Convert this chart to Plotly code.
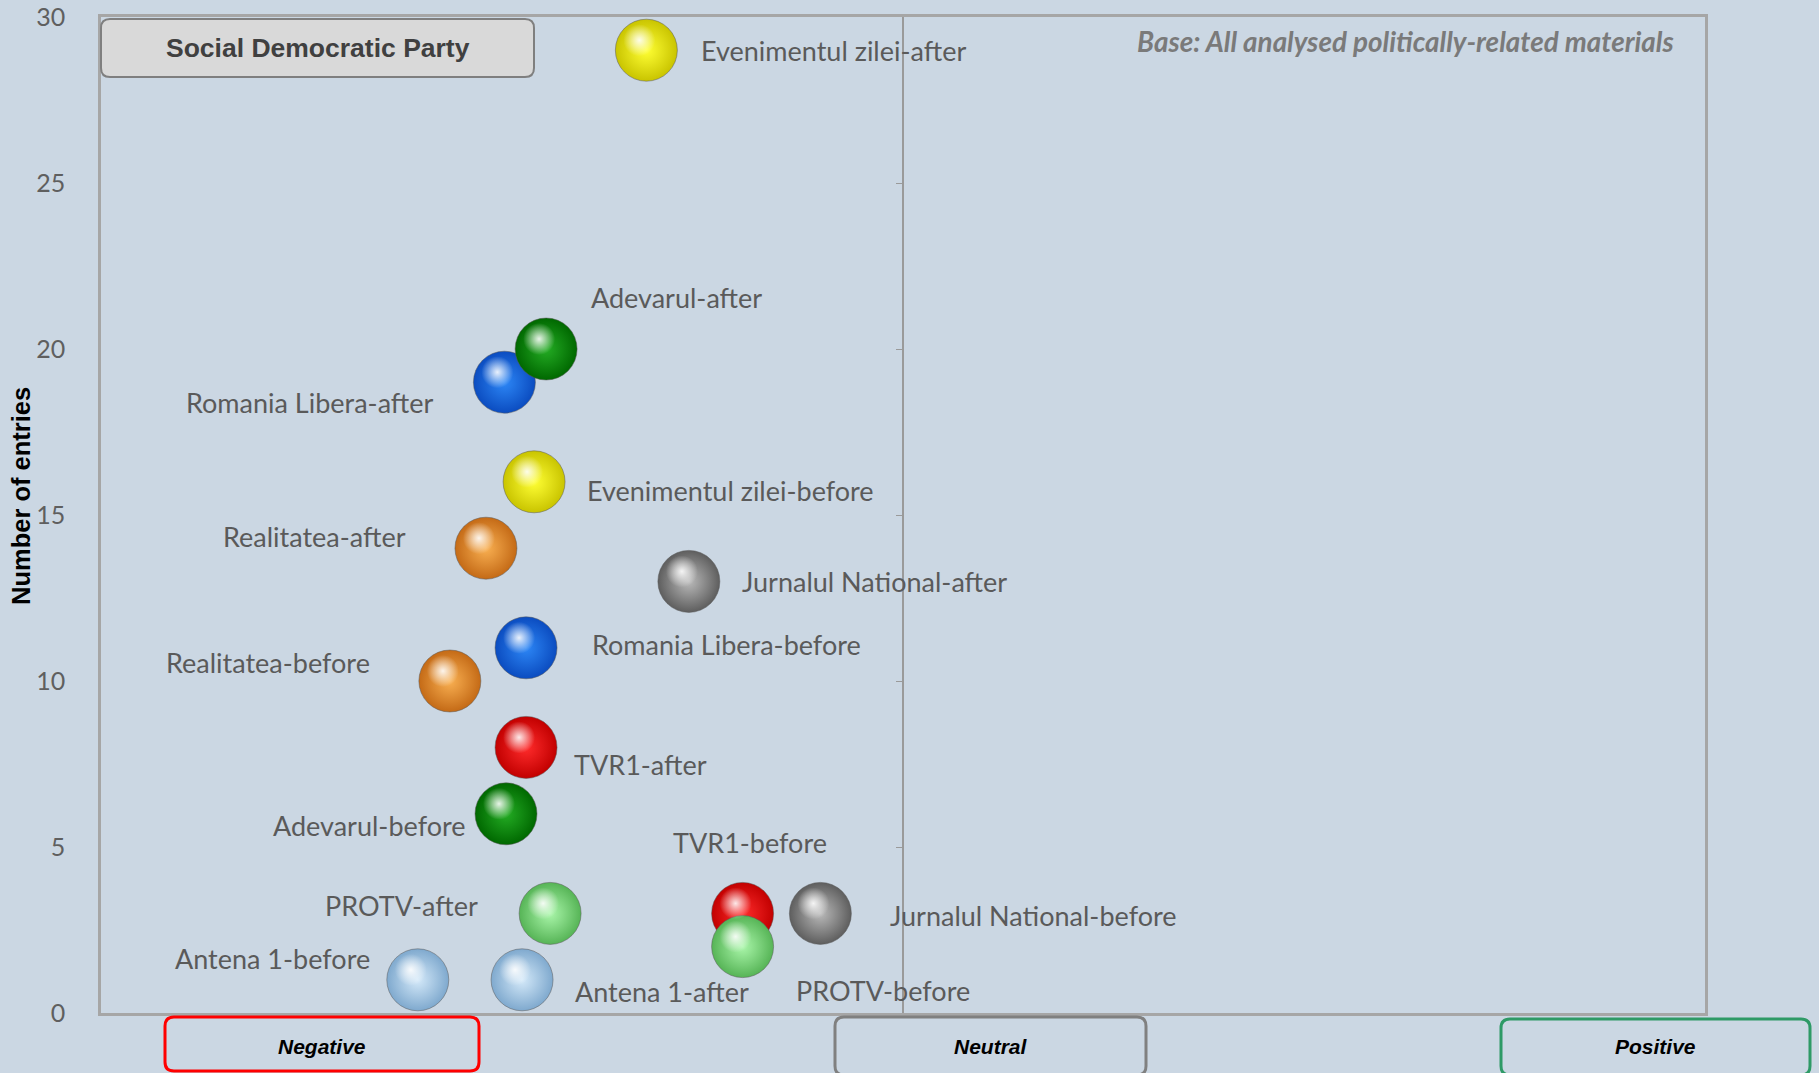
import plotly.graph_objects as go

# ---------------- data ----------------
labels = [
    "Evenimentul zilei-after", "Romania Libera-after", "Adevarul-after",
    "Evenimentul zilei-before", "Realitatea-after", "Jurnalul National-after",
    "Romania Libera-before", "Realitatea-before", "TVR1-after", "Adevarul-before",
    "PROTV-after", "TVR1-before", "Jurnalul National-before", "PROTV-before",
    "Antena 1-before", "Antena 1-after",
]
outlets = [
    "Evenimentul zilei", "Romania Libera", "Adevarul",
    "Evenimentul zilei", "Realitatea", "Jurnalul National",
    "Romania Libera", "Realitatea", "TVR1", "Adevarul",
    "PROTV", "TVR1", "Jurnalul National", "PROTV",
    "Antena 1", "Antena 1",
]
tone = [-0.32, -0.497, -0.445, -0.46, -0.52, -0.267, -0.47, -0.565, -0.47, -0.495,
        -0.44, -0.20, -0.103, -0.20, -0.605, -0.475]
entries = [29, 19, 20, 16, 14, 13, 11, 10, 8, 6, 3, 3, 3, 2, 1, 1]

y_ticks = [0, 5, 10, 15, 20, 25, 30]
categories = ["Negative", "Neutral", "Positive"]
title_text = "Social Democratic Party"
base_text = "Base: All analysed politically-related materials"
y_title = "Number of entries"

# ---------------- styles ----------------
sphere = {  # (edge, centre)
    "Evenimentul zilei": ("#c9c400", "#ffff34"),
    "Adevarul": ("#006800", "#24ac24"),
    "Romania Libera": ("#0b4cc0", "#2d87f6"),
    "Realitatea": ("#c46a16", "#f9b052"),
    "Jurnalul National": ("#5e5e5e", "#bababa"),
    "TVR1": ("#c20000", "#ff2c2c"),
    "PROTV": ("#56b456", "#aaf6aa"),
    "Antena 1": ("#7fa9ce", "#d4e9f9"),
}
# label placement: (xanchor, xshift px, yshift px)
placement = {
    "Evenimentul zilei-after": ("left", 53, 0),
    "Adevarul-after": ("left", 43, 52),
    "Romania Libera-after": ("right", -68, -20),
    "Evenimentul zilei-before": ("left", 51, -9),
    "Realitatea-after": ("right", -78, 12),
    "Jurnalul National-after": ("left", 51, 0),
    "Romania Libera-before": ("left", 64, 3),
    "Realitatea-before": ("right", -78, 19),
    "TVR1-after": ("left", 46, -17),
    "Adevarul-before": ("right", -38, -12),
    "PROTV-after": ("right", -70, 8),
    "TVR1-before": ("center", 7, 71),
    "Jurnalul National-before": ("left", 68, -2),
    "PROTV-before": ("left", 51, -44),
    "Antena 1-before": ("right", -46, 21),
    "Antena 1-after": ("left", 51, -12),
}

W, H = 1819, 1073
HL_DX, HL_DY = 7, 10           # highlight offset (left, up) in px
PLOT_L, PLOT_R, PLOT_T, PLOT_B = 101, 1705, 17, 1013
ML = PLOT_L - HL_DX
MT = PLOT_T - HL_DY
MR = W - PLOT_R
MB = H - PLOT_B
PW = W - ML - MR
PH = H - MT - MB

BG = "#cbd7e3"
FRAME = "#a6a6a6"
X_RANGE = [-1, 1]
Y_RANGE = [0, 30]


def px(xp, yp):
    return (xp - ML) / PW, (H - MB - yp) / PH


def rounded_path(x0, y0, x1, y1, r):
    rx, ry = r / PW, r / PH
    a0, b0 = px(x0, y0)  # top-left
    a1, b1 = px(x1, y1)  # bottom-right
    return (f"M{a0+rx},{b0} L{a1-rx},{b0} Q{a1},{b0} {a1},{b0-ry} "
            f"L{a1},{b1+ry} Q{a1},{b1} {a1-rx},{b1} "
            f"L{a0+rx},{b1} Q{a0},{b1} {a0},{b1+ry} "
            f"L{a0},{b0-ry} Q{a0},{b0} {a0+rx},{b0} Z")


fig = go.Figure()

edge_cols = [sphere[o][0] for o in outlets]
centre_cols = [sphere[o][1] for o in outlets]

# bubbles
fig.add_trace(go.Scatter(
    x=tone, y=entries, mode="markers", xaxis="x", yaxis="y",
    marker=dict(size=62, color=edge_cols,
                gradient=dict(type="radial", color=centre_cols),
                line=dict(width=1, color="rgba(90,90,90,0.5)")),
    hoverinfo="text", hovertext=labels, showlegend=False, cliponaxis=False,
))
# specular highlights (on a shifted overlay subplot)
fig.add_trace(go.Scatter(
    x=tone, y=entries, mode="markers", xaxis="x2", yaxis="y3",
    marker=dict(size=32, color="rgba(255,255,255,0)",
                gradient=dict(type="radial", color="rgba(255,255,255,0.9)"),
                line=dict(width=0)),
    hoverinfo="skip", showlegend=False, cliponaxis=False,
))
# tick marks on the centre line
fig.add_trace(go.Scatter(
    x=[0] * len(y_ticks), y=y_ticks, mode="markers", xaxis="x", yaxis="y2",
    marker=dict(size=1, opacity=0), hoverinfo="skip", showlegend=False,
))

main_xdom = [HL_DX / PW, 1]
main_ydom = [0, 1 - HL_DY / PH]
hl_xdom = [0, 1 - HL_DX / PW]
hl_ydom = [HL_DY / PH, 1]

annotations = []
for lab, xv, yv in zip(labels, tone, entries):
    xa, xs, ys = placement[lab]
    annotations.append(dict(
        x=xv, y=yv, xref="x", yref="y", text=lab, showarrow=False,
        xanchor=xa, yanchor="middle", xshift=xs, yshift=ys,
        font=dict(family="Lato", size=27, color="#5a5a5a"),
    ))

# header box title
hx, hy = px((PLOT_L + 534) / 2, 48)
annotations.append(dict(x=hx, y=hy, xref="paper", yref="paper", text=f"<b>{title_text}</b>",
                        showarrow=False, xanchor="center", yanchor="middle",
                        font=dict(family="Liberation Sans", size=26.5, color="#404040")))
bx, by = px(1676, 42)
annotations.append(dict(x=bx, y=by, xref="paper", yref="paper", text=f"<b><i>{base_text}</i></b>",
                        showarrow=False, xanchor="right", yanchor="middle",
                        font=dict(family="Lato", size=27.8, color="#7a7a7a")))
tx, ty = px(21, 496)
annotations.append(dict(x=tx, y=ty, xref="paper", yref="paper", text=f"<b>{y_title}</b>",
                        showarrow=False, textangle=-90, xanchor="center", yanchor="middle",
                        font=dict(family="Liberation Sans", size=25.5, color="#000000")))

shapes = [dict(type="path", xref="paper", yref="paper", layer="above",
               path=rounded_path(PLOT_L, 19, 534, 77, 9),
               fillcolor="#d9d9d9", line=dict(color="#7f7f7f", width=2))]

cat_boxes = [(165, 1017, 479, 1071, "#ff0000"),
             (835, 1017, 1146, 1075, "#808080"),
             (1501, 1019, 1810, 1075, "#2e9a66")]
for cat, (x0, y0, x1, y1, col) in zip(categories, cat_boxes):
    shapes.append(dict(type="path", xref="paper", yref="paper", layer="above",
                       path=rounded_path(x0, y0, x1, y1, 9),
                       fillcolor="rgba(0,0,0,0)", line=dict(color=col, width=3)))
    cx, cy = px((x0 + x1) / 2, 1046)
    annotations.append(dict(x=cx, y=cy, xref="paper", yref="paper", text=f"<b><i>{cat}</i></b>",
                            showarrow=False, xanchor="center", yanchor="middle",
                            font=dict(family="Liberation Sans", size=21, color="#000000")))

fig.update_layout(
    width=W, height=H,
    margin=dict(l=ML, r=MR, t=MT, b=MB, autoexpand=False),
    paper_bgcolor=BG, plot_bgcolor="rgba(0,0,0,0)",
    showlegend=False,
    xaxis=dict(domain=main_xdom, range=X_RANGE, showticklabels=False, ticks="",
               showgrid=False, zeroline=True, zerolinecolor="#9a9a9a", zerolinewidth=1.5,
               showline=True, mirror=True, linecolor=FRAME, linewidth=2.5, anchor="y",
               fixedrange=True),
    yaxis=dict(domain=main_ydom, range=Y_RANGE, tickvals=y_ticks, showgrid=False,
               zeroline=False, showline=True, mirror=True, linecolor=FRAME, linewidth=2.5,
               ticks="", ticklabelstandoff=28, anchor="x",
               tickfont=dict(family="Lato", size=25, color="#5f5f5f"), fixedrange=True),
    yaxis2=dict(overlaying="y", range=Y_RANGE, tickvals=y_ticks[1:-1], anchor="free",
                position=(main_xdom[0] + main_xdom[1]) / 2, side="left",
                ticks="outside", ticklen=7, tickwidth=1, tickcolor="#9a9a9a",
                showticklabels=False, showline=False, showgrid=False, zeroline=False,
                fixedrange=True),
    xaxis2=dict(domain=hl_xdom, range=X_RANGE, visible=False, anchor="y3", fixedrange=True),
    yaxis3=dict(domain=hl_ydom, range=Y_RANGE, visible=False, anchor="x2", fixedrange=True),
    annotations=annotations,
    shapes=shapes,
)

fig.write_html("out.html", config={"displayModeBar": False},
               post_script="document.body.style.margin='0';document.body.style.overflow='hidden';")
